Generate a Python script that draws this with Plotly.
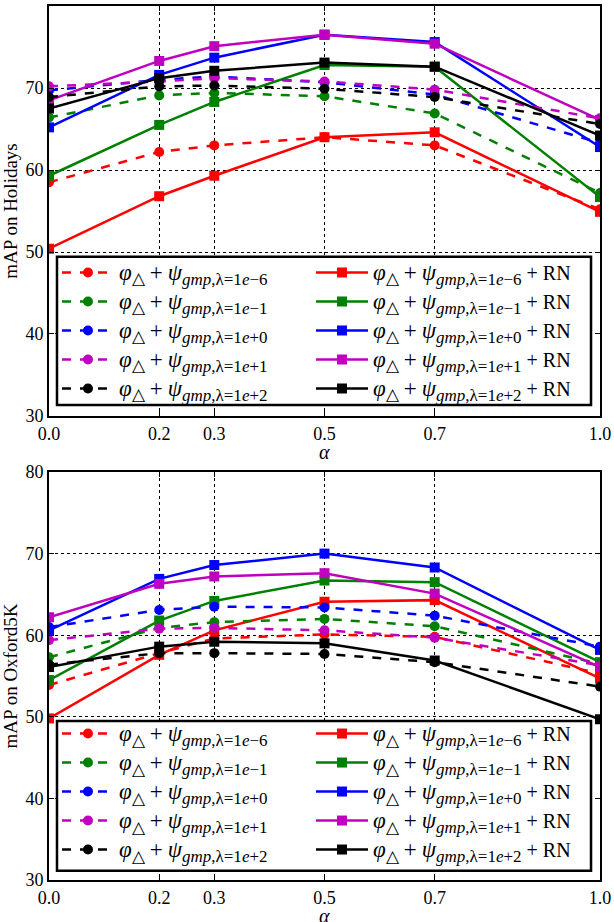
import plotly.graph_objects as go
from plotly.subplots import make_subplots

alpha = [0.0, 0.2, 0.3, 0.5, 0.7, 1.0]
tick_labels = ["0.0", "0.2", "0.3", "0.5", "0.7", "1.0"]
lambdas = ["1<i>e</i>−6", "1<i>e</i>−1", "1<i>e</i>+0", "1<i>e</i>+1", "1<i>e</i>+2"]
colors = ["#ff0000", "#008000", "#0000ff", "#bf00bf", "#000000"]

# Holidays
hol_base_l6 = [58.5, 62.2, 63.0, 64.0, 63.0, 55.2]
hol_base_l1 = [66.4, 69.1, 69.4, 69.0, 66.9, 57.2]
hol_base_p0 = [69.7, 71.0, 71.4, 70.7, 69.2, 63.3]
hol_base_p1 = [70.2, 70.8, 71.2, 70.8, 69.8, 66.3]
hol_base_p2 = [68.9, 70.2, 70.3, 69.9, 68.9, 65.6]
hol_rn_l6 = [50.4, 56.8, 59.3, 64.0, 64.6, 54.9]
hol_rn_l1 = [59.3, 65.5, 68.3, 72.8, 72.6, 56.7]
hol_rn_p0 = [65.2, 71.6, 73.7, 76.5, 75.6, 62.8]
hol_rn_p1 = [68.5, 73.3, 75.1, 76.5, 75.4, 66.1]
hol_rn_p2 = [67.5, 71.2, 72.1, 73.1, 72.6, 64.2]

# Oxford5K
ox_base_l6 = [53.9, 57.8, 59.6, 60.1, 59.8, 55.3]
ox_base_l1 = [57.3, 60.9, 61.6, 62.0, 61.1, 56.5]
ox_base_p0 = [61.0, 63.1, 63.5, 63.4, 62.4, 58.6]
ox_base_p1 = [59.4, 60.8, 60.9, 60.6, 59.7, 56.3]
ox_base_p2 = [56.4, 57.8, 57.8, 57.7, 56.7, 53.7]
ox_rn_l6 = [49.8, 57.6, 60.6, 64.1, 64.3, 54.7]
ox_rn_l1 = [54.5, 61.8, 64.2, 66.7, 66.5, 56.7]
ox_rn_p0 = [60.6, 66.9, 68.6, 70.0, 68.3, 58.2]
ox_rn_p1 = [62.2, 66.3, 67.2, 67.6, 65.1, 56.1]
ox_rn_p2 = [56.1, 58.6, 59.2, 59.0, 56.9, 49.7]

hol_base = [hol_base_l6, hol_base_l1, hol_base_p0, hol_base_p1, hol_base_p2]
hol_rn = [hol_rn_l6, hol_rn_l1, hol_rn_p0, hol_rn_p1, hol_rn_p2]
ox_base = [ox_base_l6, ox_base_l1, ox_base_p0, ox_base_p1, ox_base_p2]
ox_rn = [ox_rn_l6, ox_rn_l1, ox_rn_p0, ox_rn_p1, ox_rn_p2]

FONT = "Liberation Serif"

fig = make_subplots(rows=2, cols=1, vertical_spacing=0.0641)


def label(lam, rn):
    big = "<span style='font-size:23px'>"
    sub = "<span style='font-size:17px'>"
    s = (big + "<i>φ</i></span><sub>" + sub + "△</span></sub>&nbsp;" + big + "+</span>&nbsp;"
         + big + "<i>ψ</i></span><sub>" + sub + "<i>gmp</i>,λ=" + lam + "</span></sub>")
    if rn:
        s += " + RN"
    return s


for row, base, rn, leg_l, leg_r in [(1, hol_base, hol_rn, "legend", "legend3"),
                                    (2, ox_base, ox_rn, "legend2", "legend4")]:
    for i in range(5):
        fig.add_trace(go.Scatter(
            x=alpha, y=base[i], mode="lines+markers", name=label(lambdas[i], False),
            line=dict(color=colors[i], width=2.5, dash="dash"),
            marker=dict(symbol="circle", size=10, color=colors[i]),
            legend=leg_l, legendrank=i + 1), row=row, col=1)
        fig.add_trace(go.Scatter(
            x=alpha, y=rn[i], mode="lines+markers", name=label(lambdas[i], True),
            line=dict(color=colors[i], width=2.5),
            marker=dict(symbol="square", size=10, color=colors[i]),
            legend=leg_r, legendrank=i + 1), row=row, col=1)

axis_common = dict(
    showline=True, linecolor="black", linewidth=2, mirror="allticks",
    ticks="inside", ticklen=5, tickcolor="black",
    showgrid=True, gridcolor="black", gridwidth=1, griddash="dot",
    zeroline=False, tickfont=dict(family=FONT, size=18, color="black"),
)

for r in (1, 2):
    fig.update_xaxes(range=[0, 1], tickvals=alpha, ticktext=tick_labels,
                     row=r, col=1, **axis_common)
    fig.update_yaxes(range=[30, 80], tickvals=[30, 40, 50, 60, 70, 80], row=r, col=1,
                     title=dict(text="mAP on Holidays" if r == 1 else "mAP on Oxford5K",
                                font=dict(family=FONT, size=19, color="black"), standoff=6),
                     **axis_common)

fig.update_layout(yaxis=dict(domain=[0.5309, 1.0]), yaxis2=dict(domain=[0.0, 0.4668]))

# x-axis titles
for xr, yr in [("x domain", "y domain"), ("x2 domain", "y2 domain")]:
    fig.add_annotation(text="<i>α</i>", xref=xr, yref=yr, x=0.5, y=0, yanchor="middle",
                       yshift=-36, showarrow=False, font=dict(family=FONT, size=20, color="black"))

# legend frames
for yref, y0, y1 in [("y domain", 0.0268, 0.3885), ("y2 domain", 0.0228, 0.390)]:
    fig.add_shape(type="rect", xref="x domain" if yref == "y domain" else "x2 domain", yref=yref,
                  x0=0.0145, x1=0.9837, y0=y0, y1=y1, layer="above",
                  fillcolor="white", line=dict(color="black", width=2.5))

legend_common = dict(
    orientation="v", xanchor="left", yanchor="top",
    bgcolor="rgba(0,0,0,0)", borderwidth=0,
    font=dict(family=FONT, size=20, color="black"),
    traceorder="normal", itemwidth=52,
)

fig.update_layout(
    width=614, height=922,
    margin=dict(l=49, r=14, t=6, b=42, autoexpand=False),
    paper_bgcolor="white", plot_bgcolor="white",
    legend=dict(x=0.0145, y=0.7174, **legend_common),
    legend3=dict(x=0.4755, y=0.7174, **legend_common),
    legend2=dict(x=0.0145, y=0.1899, **legend_common),
    legend4=dict(x=0.4755, y=0.1899, **legend_common),
)

fig.write_html("out.html")
